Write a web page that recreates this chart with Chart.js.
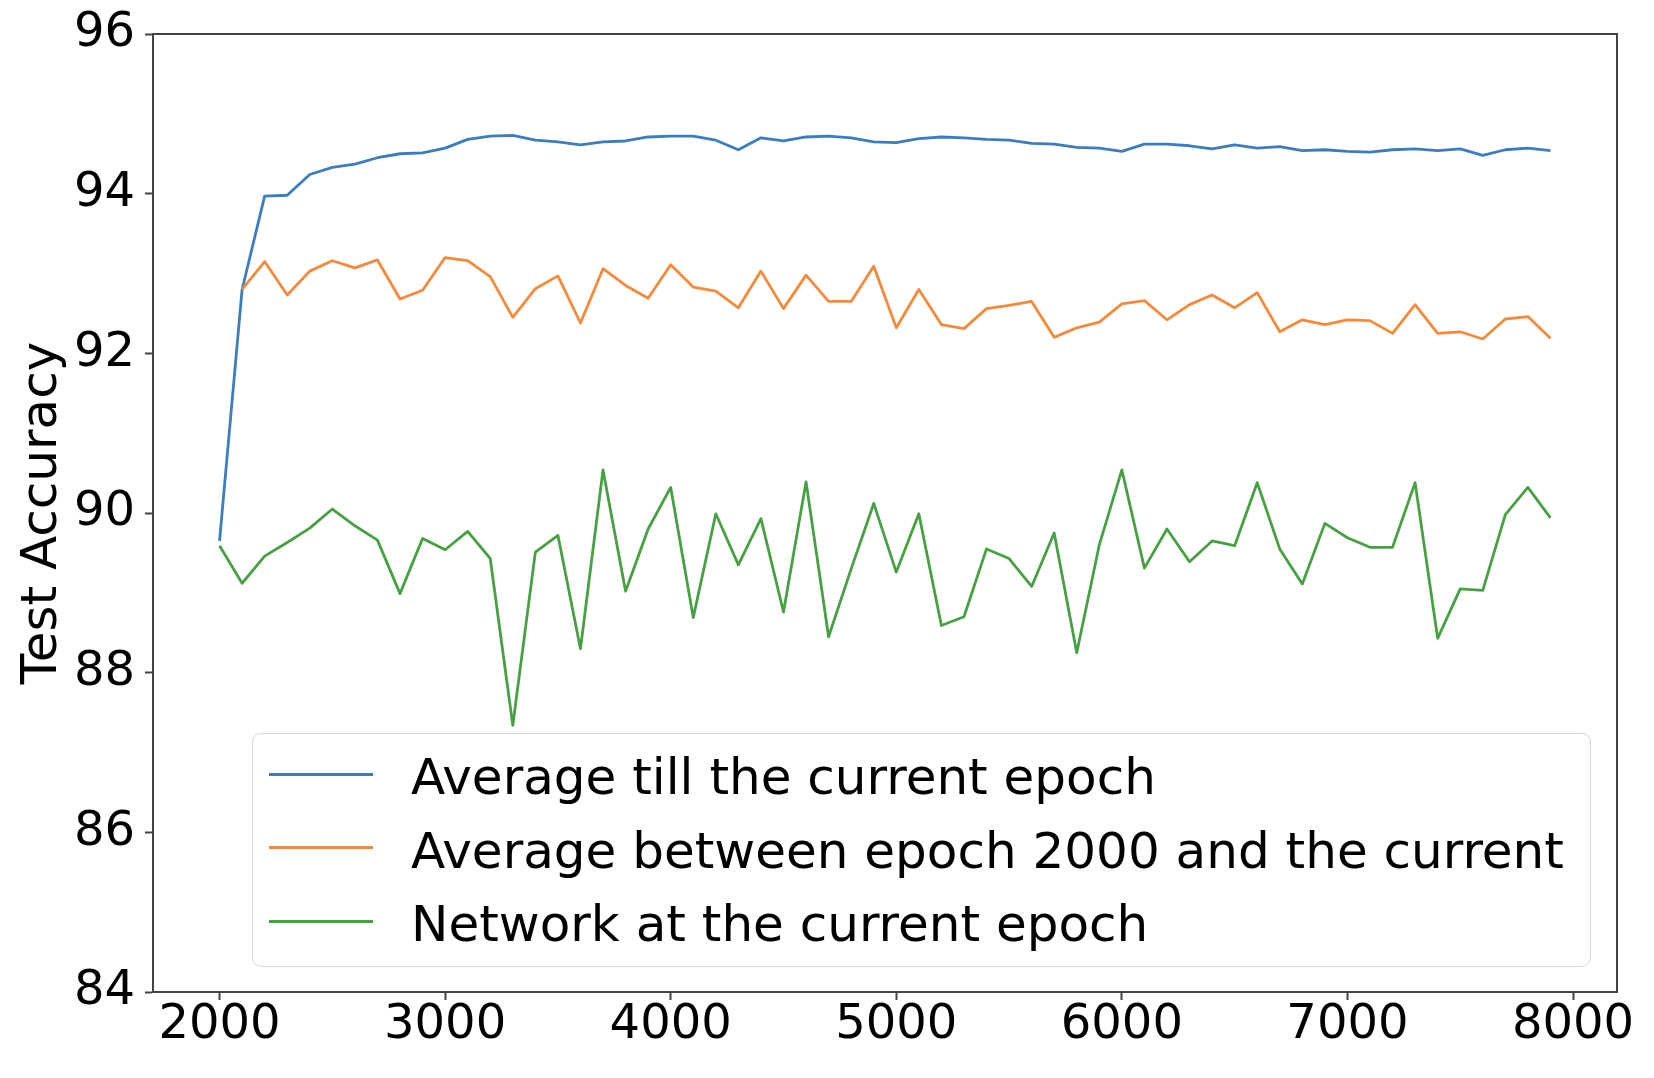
<!DOCTYPE html>
<html>
<head>
<meta charset="utf-8">
<title>Test Accuracy</title>
<script src="https://cdn.jsdelivr.net/npm/chart.js@4/dist/chart.umd.min.js"></script>
<style>
    body { margin: 0; background: #fff; }
    #wrap { position: relative; width: 1654px; height: 1078px; font-family: "DejaVu Sans", sans-serif; }
    #legend {
        position: absolute; left: 252px; top: 733px; width: 1337px; height: 232px;
        border: 1.5px solid #d6d6d6; border-radius: 9px; background: rgba(255,255,255,0.8);
    }
    .legend-item { position: absolute; left: 0; height: 0; }
    .legend-line { position: absolute; left: 16px; width: 104px; height: 3px; margin-top: -1.5px; }
    .legend-text { position: absolute; left: 158px; font-size: 50px; line-height: 1; color: #000; white-space: nowrap; }
</style>
</head>
<body>
<div id="wrap">
    <canvas id="chart" width="1654" height="1078"></canvas>
    <div id="legend"></div>
</div>
<script>
// Data
const epochs = [2000, 2100, 2200, 2300, 2400, 2500, 2600, 2700, 2800, 2900,
    3000, 3100, 3200, 3300, 3400, 3500, 3600, 3700, 3800, 3900,
    4000, 4100, 4200, 4300, 4400, 4500, 4600, 4700, 4800, 4900,
    5000, 5100, 5200, 5300, 5400, 5500, 5600, 5700, 5800, 5900,
    6000, 6100, 6200, 6300, 6400, 6500, 6600, 6700, 6800, 6900,
    7000, 7100, 7200, 7300, 7400, 7500, 7600, 7700, 7800, 7900];

const avgTillCurrent = [89.65, 92.80, 93.97, 93.98, 94.24, 94.33, 94.37, 94.45, 94.50, 94.51,
    94.57, 94.68, 94.72, 94.73, 94.67, 94.65, 94.61, 94.65, 94.66, 94.71,
    94.72, 94.72, 94.67, 94.55, 94.70, 94.66, 94.71, 94.72, 94.70, 94.65,
    94.64, 94.69, 94.71, 94.70, 94.68, 94.67, 94.63, 94.62, 94.58, 94.57,
    94.53, 94.62, 94.62, 94.60, 94.56, 94.61, 94.57, 94.59, 94.54, 94.55,
    94.53, 94.52, 94.55, 94.56, 94.54, 94.56, 94.48, 94.55, 94.57, 94.54];

const avgSince2000 = [null, 92.80, 93.15, 92.73, 93.03, 93.16, 93.07, 93.17, 92.68, 92.79,
    93.20, 93.16, 92.96, 92.45, 92.81, 92.97, 92.38, 93.06, 92.85, 92.69,
    93.11, 92.83, 92.78, 92.57, 93.03, 92.56, 92.98, 92.65, 92.65, 93.09,
    92.32, 92.80, 92.36, 92.31, 92.56, 92.60, 92.65, 92.20, 92.32, 92.39,
    92.62, 92.66, 92.42, 92.61, 92.73, 92.57, 92.76, 92.27, 92.42, 92.36,
    92.42, 92.41, 92.25, 92.61, 92.25, 92.27, 92.18, 92.43, 92.46, 92.19];

const currentNetwork = [89.59, 89.12, 89.46, 89.63, 89.81, 90.05, 89.84, 89.66, 88.99, 89.68,
    89.54, 89.77, 89.43, 87.34, 89.51, 89.72, 88.30, 90.54, 89.02, 89.80,
    90.32, 88.69, 89.99, 89.35, 89.93, 88.76, 90.39, 88.45, 89.30, 90.12,
    89.26, 89.99, 88.59, 88.70, 89.55, 89.43, 89.08, 89.75, 88.25, 89.60,
    90.54, 89.31, 89.80, 89.39, 89.65, 89.59, 90.38, 89.55, 89.11, 89.87,
    89.69, 89.57, 89.57, 90.38, 88.43, 89.05, 89.03, 89.98, 90.32, 89.94];

const seriesLabels = ['Average till the current epoch', 'Average between epoch 2000 and the current', 'Network at the current epoch'];
const seriesColors = ['#3b7dbf', '#f48a3a', '#47a143'];
const xTicks = [2000, 3000, 4000, 5000, 6000, 7000, 8000];
const yTicks = [84, 86, 88, 90, 92, 94, 96];

const axisColor = '#444';
const font = 'DejaVu Sans';

function toPoints(values) {
    return values.map((v, i) => ({ x: epochs[i], y: v }));
}

// Box around the plot (top and right sides)
const frame = {
    id: 'frame',
    afterDraw(chart) {
        const { ctx, chartArea: a } = chart;
        ctx.save();
        ctx.strokeStyle = axisColor;
        ctx.lineWidth = 2;
        ctx.beginPath();
        ctx.moveTo(a.left, a.top);
        ctx.lineTo(a.right, a.top);
        ctx.lineTo(a.right, a.bottom);
        ctx.stroke();
        ctx.restore();
    }
};

const seriesValues = [avgTillCurrent, avgSince2000, currentNetwork];

new Chart(document.getElementById('chart'), {
    type: 'line',
    data: {
        datasets: seriesValues.map((values, i) => ({
            label: seriesLabels[i],
            data: toPoints(values),
            borderColor: seriesColors[i],
            borderWidth: 2.8,
            borderJoinStyle: 'round',
            pointRadius: 0,
            tension: 0,
            fill: false,
            order: 3 - i
        }))
    },
    options: {
        responsive: false,
        devicePixelRatio: 1,
        animation: false,
        layout: { padding: { left: 0, top: 24, right: 37, bottom: 0 } },
        plugins: {
            legend: { display: false },
            tooltip: { enabled: false }
        },
        scales: {
            x: {
                type: 'linear',
                min: 1705,
                max: 8195,
                afterBuildTicks: (scale) => { scale.ticks = xTicks.map(v => ({ value: v })); },
                afterFit: (scale) => { scale.height = 86; },
                grid: { display: true, drawOnChartArea: false, tickLength: 8, tickColor: axisColor, tickWidth: 2 },
                border: { display: true, color: axisColor, width: 2 },
                ticks: {
                    font: { family: font, size: 48, lineHeight: 1 },
                    color: '#000',
                    padding: 2,
                    maxRotation: 0,
                    callback: (v) => String(v)
                }
            },
            y: {
                min: 84,
                max: 96,
                afterBuildTicks: (scale) => { scale.ticks = yTicks.map(v => ({ value: v })); },
                afterFit: (scale) => { scale.width = 153; },
                grid: { display: true, drawOnChartArea: false, tickLength: 8, tickColor: axisColor, tickWidth: 2 },
                border: { display: true, color: axisColor, width: 2 },
                ticks: { font: { family: font, size: 48, lineHeight: 1 }, color: '#000', padding: 10 },
                title: {
                    display: true,
                    text: 'Test Accuracy',
                    font: { family: font, size: 50, lineHeight: 1 },
                    color: '#000',
                    padding: { top: 18, bottom: 0 }
                }
            }
        }
    },
    plugins: [frame]
});

// Legend drawn as HTML inside the plot
const legend = document.getElementById('legend');
seriesLabels.forEach((label, i) => {
    const item = document.createElement('div');
    item.className = 'legend-item';
    item.style.top = (40 + i * 73.5) + 'px';
    item.innerHTML = `<div class="legend-line" style="background:${seriesColors[i]}"></div>` +
        `<div class="legend-text" style="top:-22px">${label}</div>`;
    legend.appendChild(item);
});
</script>
</body>
</html>
